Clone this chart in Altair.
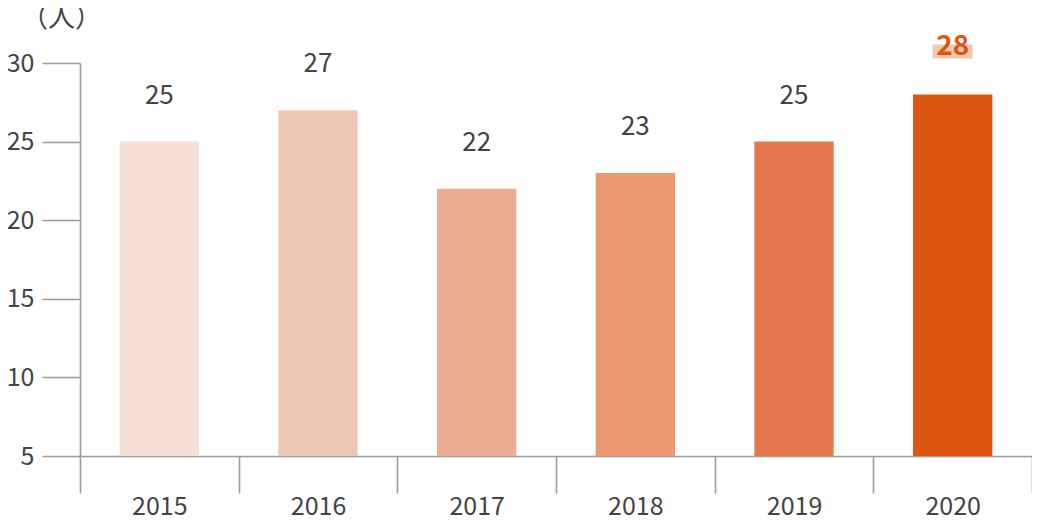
import altair as alt
import pandas as pd

years = ["2015", "2016", "2017", "2018", "2019", "2020"]
values = [25, 27, 22, 23, 25, 28]
bar_colors = ["#F5DFD6", "#F0C7B4", "#EAAC92", "#EB9873", "#E3794C", "#DD5511"]
y_ticks = [5, 10, 15, 20, 25, 30]
highlight_year = "2020"

df = pd.DataFrame({"year": years, "value": values})
df["hl"] = df["year"] == highlight_year

FONT = "Noto Sans CJK JP"
TEXT = "#444444"
AXIS = "#9c9c9c"

x_enc = alt.X(
    "year:N",
    sort=years,
    scale=alt.Scale(paddingInner=0, paddingOuter=0),
    axis=alt.Axis(
        title=None, labelAngle=0, tickBand="extent", tickSize=37, labelPadding=1,
        labelFontSize=25, labelColor=TEXT, labelFont=FONT,
        domainColor=AXIS, tickColor=AXIS, domainWidth=1.6, tickWidth=1.6,
    ),
)
y_enc = alt.Y(
    "value:Q",
    scale=alt.Scale(domain=[5, 30], nice=False, zero=False),
    axis=alt.Axis(
        values=y_ticks, title="（人）", titleAngle=0, titleX=-19, titleY=-45,
        titleAlign="center", titleBaseline="middle", titleFontSize=27,
        titleFontWeight="normal", titleColor=TEXT, titleFont=FONT,
        tickSize=38, labelPadding=8, labelFontSize=25, labelColor=TEXT, labelFont=FONT,
        grid=False, domainColor=AXIS, tickColor=AXIS, domainWidth=1.6, tickWidth=1.6,
    ),
)

base = alt.Chart(df).encode(x=x_enc, y=y_enc)

bars = base.mark_bar(width=alt.RelativeBandSize(0.5)).encode(
    y2=alt.datum(5),
    color=alt.Color("year:N", scale=alt.Scale(domain=years, range=bar_colors), legend=None),
)

labels = base.transform_filter(alt.datum.hl == False).mark_text(
    dy=-38, baseline="alphabetic", fontSize=26, font=FONT, color=TEXT
).encode(text="value:Q")

hl_box = base.transform_filter(alt.datum.hl == True).mark_tick(
    thickness=14, size=40, yOffset=-43, color="#F3C3AC", opacity=0.9
)

hl_label = base.transform_filter(alt.datum.hl == True).mark_text(
    dy=-39, baseline="alphabetic", fontSize=28, font=FONT, fontWeight="bold", color="#DD5511"
).encode(text="value:Q")

chart = (
    alt.layer(bars, labels, hl_box, hl_label)
    .properties(
        width=952, height=393,
        autosize=alt.AutoSizeParams(type="none"),
        padding={"left": 72, "top": 55, "right": 0, "bottom": 62},
    )
    .configure(font=FONT, view=alt.ViewConfig(stroke=None))
)

chart.save("out.html", embed_options={"renderer": "svg", "actions": False})
